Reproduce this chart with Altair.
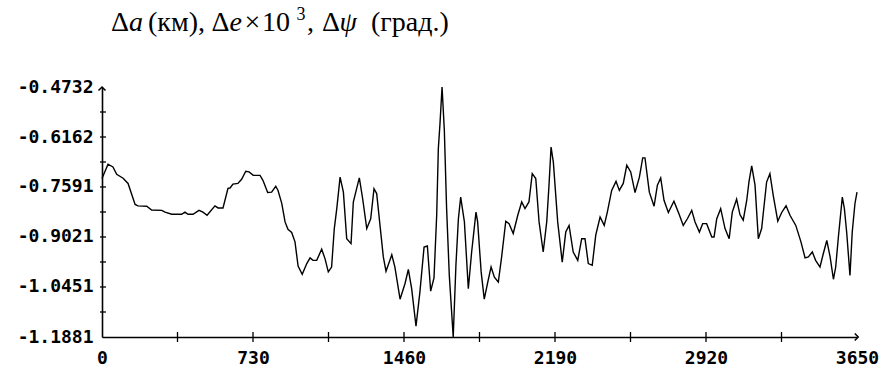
import altair as alt
import pandas as pd

# ---- data ----
days = [0, 29, 53, 71, 102, 126, 160, 174, 216, 240, 289, 305, 337, 385, 401, 416, 440, 469, 488, 508,
        546, 561, 585, 609, 619, 633, 657, 675, 695, 711, 731, 764, 778, 801, 820, 840, 851, 869, 885, 899,
        917, 933, 948, 968, 990, 1006, 1020, 1038, 1062, 1078, 1094, 1110, 1123, 1135, 1151, 1167, 1183, 1204, 1215, 1231,
        1244, 1260, 1280, 1299, 1315, 1328, 1344, 1360, 1373, 1401, 1416, 1441, 1465, 1481, 1497, 1518, 1537, 1557, 1573, 1589,
        1605, 1618, 1626, 1634, 1644, 1655, 1666, 1679, 1698, 1711, 1723, 1734, 1752, 1771, 1787, 1808, 1816, 1833, 1848, 1865,
        1881, 1897, 1916, 1932, 1952, 1968, 1988, 2010, 2029, 2045, 2064, 2080, 2097, 2113, 2133, 2150, 2161, 2171, 2182, 2203,
        2225, 2242, 2258, 2278, 2300, 2319, 2335, 2351, 2370, 2387, 2408, 2428, 2443, 2464, 2485, 2501, 2520, 2537, 2556, 2577,
        2598, 2614, 2625, 2646, 2669, 2685, 2701, 2717, 2738, 2765, 2786, 2810, 2830, 2851, 2867, 2888, 2904, 2923, 2948, 2959,
        2972, 2991, 3012, 3032, 3047, 3068, 3084, 3100, 3117, 3128, 3141, 3157, 3173, 3189, 3213, 3229, 3245, 3267, 3286, 3307,
        3326, 3354, 3379, 3399, 3415, 3434, 3450, 3471, 3487, 3504, 3520, 3536, 3547, 3560, 3579, 3589, 3600, 3616, 3627, 3640,
        3650]
values = [-0.735, -0.694, -0.702, -0.723, -0.734, -0.749, -0.809, -0.813, -0.814, -0.825, -0.826, -0.831, -0.837, -0.837, -0.831, -0.837, -0.837, -0.826, -0.831, -0.840,
          -0.813, -0.819, -0.819, -0.763, -0.762, -0.751, -0.749, -0.737, -0.714, -0.716, -0.726, -0.726, -0.740, -0.775, -0.774, -0.757, -0.769, -0.806, -0.859, -0.880,
          -0.889, -0.916, -0.985, -1.009, -0.978, -0.962, -0.969, -0.969, -0.937, -0.964, -1.002, -0.988, -0.878, -0.821, -0.731, -0.774, -0.907, -0.921, -0.802, -0.764,
          -0.733, -0.792, -0.878, -0.850, -0.764, -0.778, -0.869, -0.959, -1.000, -0.953, -0.988, -1.080, -1.035, -0.995, -1.050, -1.157, -1.059, -0.931, -0.928, -1.057,
          -1.019, -0.840, -0.649, -0.578, -0.473, -0.597, -0.821, -1.012, -1.188, -0.983, -0.850, -0.788, -0.859, -1.050, -0.945, -0.831, -0.859, -1.002, -1.080, -1.031,
          -0.988, -1.017, -1.031, -0.959, -0.857, -0.864, -0.892, -0.840, -0.802, -0.821, -0.802, -0.721, -0.735, -0.859, -0.945, -0.859, -0.754, -0.645, -0.688, -0.859,
          -0.974, -0.888, -0.869, -0.945, -0.969, -0.907, -0.907, -0.978, -0.983, -0.897, -0.845, -0.869, -0.831, -0.769, -0.743, -0.769, -0.749, -0.697, -0.716, -0.775,
          -0.731, -0.676, -0.676, -0.774, -0.814, -0.754, -0.733, -0.797, -0.832, -0.800, -0.831, -0.869, -0.850, -0.826, -0.859, -0.888, -0.864, -0.864, -0.902, -0.902,
          -0.850, -0.821, -0.878, -0.907, -0.831, -0.794, -0.838, -0.854, -0.797, -0.743, -0.699, -0.754, -0.907, -0.878, -0.745, -0.721, -0.783, -0.857, -0.832, -0.813,
          -0.840, -0.869, -0.916, -0.962, -0.959, -0.945, -0.969, -0.988, -0.950, -0.912, -0.959, -1.023, -0.988, -0.902, -0.788, -0.821, -0.888, -1.012, -0.888, -0.807,
          -0.774]

x_label_values = [0, 730, 1460, 2190, 2920, 3650]
x_tick_values = [365, 730, 1095, 1460, 1825, 2190, 2555, 2920, 3285]
y_label_values = [-0.4732, -0.6162, -0.7591, -0.9021, -1.0451, -1.1881]
y_tick_values = [-0.5447, -0.6162, -0.6877, -0.7591, -0.8306, -0.9021, -0.9736, -1.0451, -1.1166]

df = pd.DataFrame({"day": days, "value": values})

W, H = 755, 250
xs = alt.Scale(domain=[0, 3650], nice=False, zero=False)
ys = alt.Scale(domain=[-1.1881, -0.4732], nice=False, zero=False)

LF = "DejaVu Sans Mono"
LS = 18
one = alt.Data(values=[{}])

line = alt.Chart(df).mark_line(color="black", strokeWidth=1.4).encode(
    x=alt.X("day:Q", scale=xs, axis=alt.Axis(
        values=x_label_values, title=None, ticks=False, grid=False,
        domainColor="black", domainWidth=1.6, labelFont=LF, labelFontSize=LS,
        labelFontWeight="bold", labelColor="black", labelPadding=12,
        labelFlush=False, labelOverlap=False, format="d")),
    y=alt.Y("value:Q", scale=ys, axis=alt.Axis(
        values=y_label_values, title=None, ticks=False, grid=False,
        domainColor="black", domainWidth=1.6, labelFont=LF, labelFontSize=LS,
        labelFontWeight="bold", labelColor="black", labelPadding=9,
        labelOverlap=False,
        labelExpr="replace(format(datum.value, '.4f'), '\u2212', '-')")),
)

xticks = alt.Chart(pd.DataFrame({"day": x_tick_values})).mark_rule(
    color="black", strokeWidth=1.3).encode(
    x=alt.X("day:Q", scale=xs), y=alt.value(H - 5), y2=alt.value(H + 5))

yticks = alt.Chart(pd.DataFrame({"value": y_tick_values})).mark_rule(
    color="black", strokeWidth=1.3).encode(
    y=alt.Y("value:Q", scale=ys), x=alt.value(-2), x2=alt.value(4))

arrow_up = alt.Chart(one).mark_point(
    shape="M-1,0.5L0,-0.5L1,0.5", size=49, filled=False, color="black",
    strokeWidth=1.5, opacity=1).encode(x=alt.value(0), y=alt.value(1.75))
arrow_right = alt.Chart(one).mark_point(
    shape="M-0.5,-1L0.5,0L-0.5,1", size=49, filled=False, color="black",
    strokeWidth=1.5, opacity=1).encode(x=alt.value(W - 0.5), y=alt.value(H))

OX, OY = 102, 87  # plot-area origin inside the page


def seg(txt, x, y, size=28, style="normal"):
    return alt.Chart(one).mark_text(
        text=txt, font="Liberation Serif", fontSize=size, fontStyle=style,
        align="left", baseline="alphabetic", color="black").encode(
        x=alt.value(x - OX), y=alt.value(y - OY))


TB = 31
title_layers = [
    seg("Δ", 111, TB),
    seg("a", 129, TB, style="italic"),
    seg("(км),", 148, TB),
    seg("Δ", 211.5, TB),
    seg("e", 229.5, TB, style="italic"),
    seg("×", 244.5, TB),
    seg("10", 262, TB),
    seg("3", 296.5, 19.5, size=18),
    seg(",", 307, TB),
    seg("Δ", 322, TB),
    seg("ψ", 339.5, TB, style="italic"),
    seg("(град.)", 371, TB),
]

chart = alt.layer(line, xticks, yticks, arrow_up, arrow_right, *title_layers).properties(
    width=W, height=H,
    autosize=alt.AutoSizeParams(type="none"),
    padding={"left": OX, "top": OY, "right": 26, "bottom": 42},
    background="white",
).configure_view(stroke=None)

chart.save("out.html", embed_options={"renderer": "svg", "actions": False})
